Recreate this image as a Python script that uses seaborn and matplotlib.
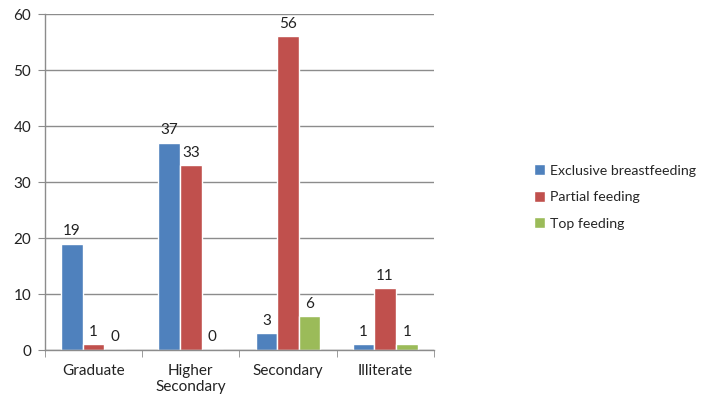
import numpy as np
import pandas as pd
import matplotlib
matplotlib.use("Agg")
import matplotlib.pyplot as plt
import seaborn as sns

# data
categories = ["Graduate", "Higher\nSecondary", "Secondary", "Illiterate"]
series = ["Exclusive breastfeeding", "Partial feeding", "Top feeding"]
exclusive = [19, 37, 3, 1]
partial = [1, 33, 56, 11]
top = [0, 0, 6, 1]
colors = ["#4F81BD", "#C0504D", "#9BBB59"]

df = pd.DataFrame({
    "education": categories * 3,
    "feeding": [s for s in series for _ in categories],
    "count": exclusive + partial + top,
})

sns.set_style("white")
plt.rcParams["font.family"] = ["Lato", "DejaVu Sans"]

fig = plt.figure(figsize=(7.03, 3.98), dpi=100)
ax = fig.add_axes([0.064, 0.1206, 0.553, 0.8442])

sns.barplot(data=df, x="education", y="count", hue="feeding",
            palette=colors, width=0.667, gap=0, saturation=1,
            order=categories, hue_order=series, ax=ax)

for c in ax.containers:
    ax.bar_label(c, padding=4, fontsize=11, color="#222222")

ax.set_ylim(0, 60)
ax.set_yticks(np.arange(0, 61, 10))
ax.set_xlim(-0.5, len(categories) - 0.5)
ax.set_xlabel("")
ax.set_ylabel("")

ax.yaxis.grid(True, color="#8c8c8c", linewidth=1)
ax.set_axisbelow(True)
for side in ["top", "right"]:
    ax.spines[side].set_visible(False)
for side in ["left", "bottom"]:
    ax.spines[side].set_color("#8c8c8c")
    ax.spines[side].set_linewidth(1)

# category boundary ticks on x axis
ax.set_xticks(np.arange(-0.5, len(categories), 1), minor=True)
ax.tick_params(axis="x", which="major", length=0, pad=10, labelsize=11, colors="#222222")
ax.tick_params(axis="x", which="minor", length=5, color="#8c8c8c", direction="out")
ax.tick_params(axis="y", length=5, color="#8c8c8c", direction="out", pad=5,
               labelsize=11, labelcolor="#222222")
ax.tick_params(axis="both", bottom=True, left=True, which="both")
ax.tick_params(axis="x", which="major", bottom=False)

ax.legend(loc="center left", bbox_to_anchor=(1.225, 0.455), frameon=False,
          fontsize=10.2, handlelength=0.8, handleheight=0.8, handletextpad=0.3,
          labelspacing=1.0)

fig.savefig("out.png", dpi=100)
